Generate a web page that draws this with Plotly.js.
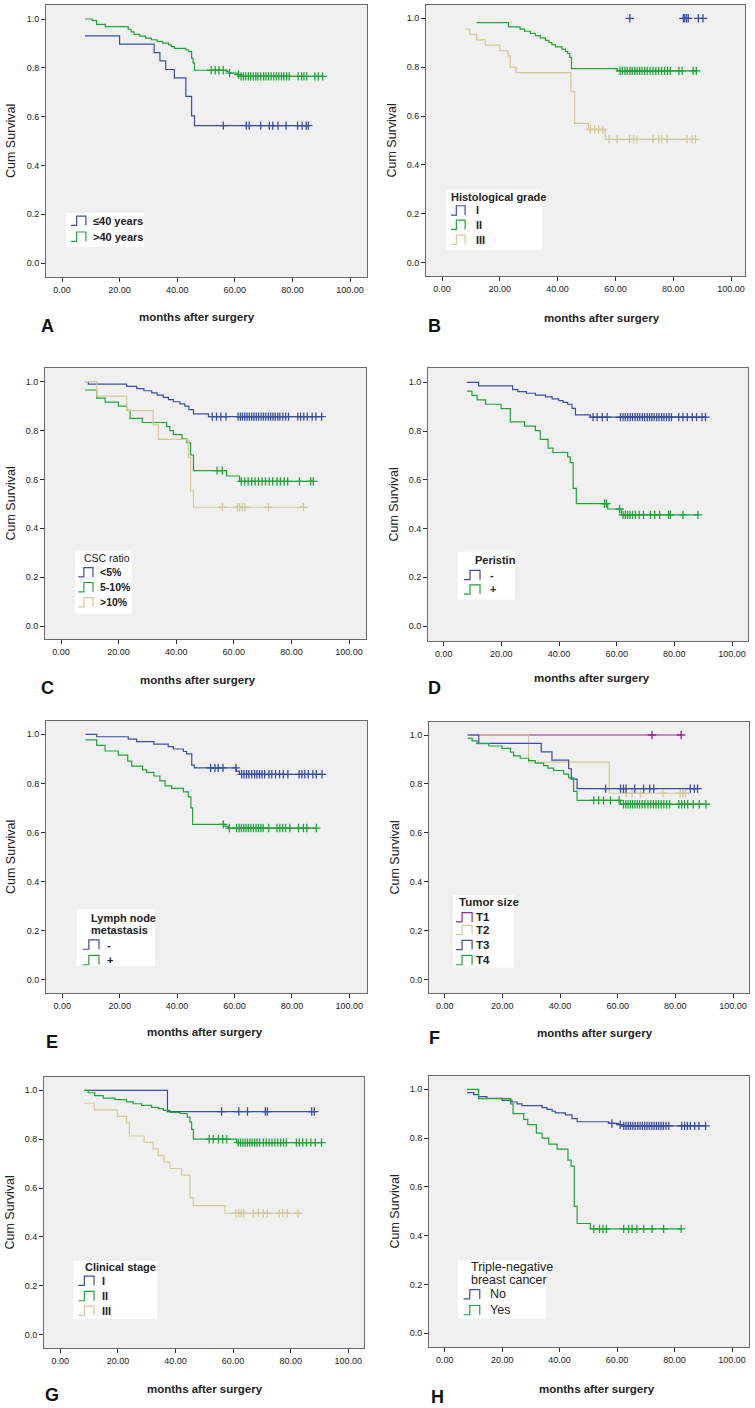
<!DOCTYPE html>
<html>
<head>
<meta charset="utf-8">
<script src="https://cdn.plot.ly/plotly-3.0.1.min.js"></script>
<style>
html,body{margin:0;padding:0;background:#fff;}
#chart{width:755px;height:1408px;}
</style>
</head>
<body>
<div id="chart"></div>
<script>
// ---------------- DATA ----------------
// Panel A: Age
const A_le40_start = [8, 0.931];
const A_le40_t = [20, 32, 34, 36, 39, 43, 45, 46];
const A_le40_s = [0.897, 0.862, 0.828, 0.793, 0.759, 0.683, 0.603, 0.563];
const A_le40_c = [56, 64, 65, 69, 72, 73.2, 75, 77.8, 81.8, 83.4, 84.8, 85.5];
const A_gt40_start = [8, 1.0];
const A_gt40_t = [10.5, 12, 15, 23, 24, 25, 27, 29, 31, 33, 35, 37, 38, 39, 43, 44, 45, 45.5, 46, 57, 58, 61, 62];
const A_gt40_s = [0.993, 0.978, 0.969, 0.958, 0.947, 0.937, 0.93, 0.922, 0.915, 0.908, 0.901, 0.894, 0.887, 0.88, 0.873, 0.866, 0.84, 0.82, 0.79, 0.785, 0.778, 0.772, 0.765];
const A_gt40_c = [51.8, 53.2, 54.5, 56, 58.2, 61.3, 62.2, 63, 63.8, 64.7, 65.5, 66.4, 67.3, 68, 69, 70, 70.8, 71.7, 72.6, 73.5, 74.4, 75.3, 76.2, 77, 78, 78.9, 82, 83.2, 84, 85, 87.8, 89, 90.5];

// Panel B: Histological grade
const B_I_start = [65, 1.0];
const B_I_t = [];
const B_I_s = [];
const B_I_c = [65, 83.5, 84, 84.6, 85.2, 88.7, 90.3];
const B_II_start = [12, 0.982];
const B_II_t = [23, 27, 28.6, 30.6, 32.3, 34, 35.8, 37, 38, 39.2, 41.5, 42.7, 43.5, 44.2, 44.8, 60.6];
const B_II_s = [0.965, 0.956, 0.947, 0.938, 0.929, 0.92, 0.91, 0.901, 0.892, 0.883, 0.874, 0.865, 0.856, 0.84, 0.794, 0.785];
const B_II_c = [61.6, 62.4, 63.3, 64.1, 65, 65.8, 66.7, 67.5, 68.4, 69.2, 70.1, 71, 72, 73, 74, 75, 76, 77, 78, 79, 82, 83.1, 86.9, 88];
const B_III_start = [8.1, 0.956];
const B_III_t = [9.6, 12, 15, 20, 22.8, 23.6, 25.6, 44.6, 45.9, 50.7, 56.5];
const B_III_s = [0.934, 0.912, 0.89, 0.868, 0.846, 0.8, 0.778, 0.7, 0.57, 0.545, 0.505];
const B_III_c = [51.3, 52.8, 54.2, 55.7, 57.8, 60.6, 64.9, 66.3, 67.5, 73, 75, 76.1, 77.9, 84.8, 86.5, 87.7];

// Panel C: CSC ratio
const C_lt5_start = [8.3, 1.0];
const C_lt5_t = [9.5, 22.8, 26.3, 28.8, 31.5, 33.4, 35.5, 37.3, 39, 41.3, 43, 44.4, 46, 51.2];
const C_lt5_s = [0.99, 0.981, 0.972, 0.963, 0.954, 0.945, 0.936, 0.927, 0.918, 0.909, 0.9, 0.886, 0.868, 0.857];
const C_lt5_c = [52.5, 54, 55.5, 57.3, 61.5, 62.3, 63, 63.8, 64.6, 65.4, 66.2, 67, 67.8, 68.6, 69.5, 70.3, 71.1, 72, 72.8, 73.6, 74.4, 75.3, 76, 77, 78, 79, 82.2, 83.2, 84.3, 85.5, 87.2, 88.5, 90.5];
const C_5to10_start = [8.3, 0.966];
const C_5to10_t = [12.4, 15.3, 19.9, 22.8, 24, 28.2, 36.7, 37.8, 39, 42, 43.7, 45, 46, 57.5, 62];
const C_5to10_s = [0.933, 0.916, 0.9, 0.883, 0.85, 0.833, 0.816, 0.8, 0.783, 0.766, 0.75, 0.7, 0.636, 0.614, 0.592];
const C_5to10_c = [54.2, 56, 62.6, 63.8, 65, 66.2, 67.4, 68.6, 69.8, 71, 72.3, 73.5, 75, 76.2, 77.5, 78.7, 82.8, 86.7, 87.6];
const C_gt10_start = [8.3, 1.0];
const C_gt10_t = [12.4, 22.8, 32, 33.8, 44.2, 45, 46];
const C_gt10_s = [0.941, 0.882, 0.823, 0.764, 0.69, 0.553, 0.486];
const C_gt10_c = [56, 61.2, 62, 63, 63.9, 72, 84.2];

// Panel D: Periostin
const D_neg_start = [8.1, 1.0];
const D_neg_t = [12.1, 23.9, 25.7, 28.7, 31.8, 35.3, 37.6, 39.9, 41.4, 43, 44.5, 45.7, 50.9];
const D_neg_s = [0.985, 0.97, 0.962, 0.955, 0.947, 0.94, 0.932, 0.925, 0.918, 0.91, 0.893, 0.866, 0.857];
const D_neg_c = [51.8, 53.2, 55, 56.7, 61.3, 62.2, 63, 63.8, 64.7, 65.5, 66.4, 67.2, 68, 68.9, 69.7, 70.6, 71.4, 72.2, 73, 73.9, 74.7, 75.6, 76.4, 77.3, 78.2, 79, 81.5, 83, 84.5, 86.2, 87.7, 89.6, 90.8];
const D_pos_start = [8.1, 0.964];
const D_pos_t = [9.8, 11.6, 14.5, 19.9, 23.1, 28, 31.8, 33.5, 36.2, 37.9, 43, 43.9, 44.9, 46, 56.9, 61.6];
const D_pos_s = [0.946, 0.928, 0.91, 0.892, 0.838, 0.82, 0.802, 0.766, 0.73, 0.712, 0.694, 0.67, 0.565, 0.502, 0.48, 0.456];
const D_pos_c = [55.8, 56.4, 61, 62.2, 63, 63.8, 64.6, 65.5, 66.5, 67.8, 69.3, 71.7, 73.2, 74.9, 78, 78.6, 83, 88.2];

// Panel E: Lymph node metastasis
const E_neg_start = [8.1, 1.0];
const E_neg_t = [12, 23, 25.9, 31.9, 36.9, 38.7, 42.2, 43.3, 45.1, 46, 60.7, 61.7];
const E_neg_s = [0.99, 0.98, 0.97, 0.96, 0.95, 0.94, 0.93, 0.92, 0.874, 0.863, 0.85, 0.837];
const E_neg_c = [51.7, 53.2, 54.3, 56, 60.5, 62.5, 63.3, 64.2, 65, 66, 67, 67.8, 68.7, 69.6, 70.5, 72, 73, 74.3, 75.7, 77, 78.6, 82.5, 83.5, 84.5, 85.7, 87.3, 88.5, 90.5];
const E_pos_start = [8.1, 0.977];
const E_pos_t = [12, 14.9, 19.5, 22.8, 24.2, 28, 29.4, 31.9, 34, 35.8, 38.1, 42.2, 43.9, 44.8, 45.4, 56.7, 57.8];
const E_pos_s = [0.955, 0.932, 0.915, 0.891, 0.87, 0.855, 0.845, 0.83, 0.81, 0.79, 0.78, 0.765, 0.745, 0.7, 0.633, 0.625, 0.618];
const E_pos_c = [56.1, 58.2, 60.7, 61.6, 62.4, 63.2, 64, 64.8, 65.7, 66.6, 67.5, 68.3, 69.2, 70, 71.9, 74.8, 75.8, 76.8, 77.8, 79.3, 82.3, 84, 85.2, 88.5];

// Panel F: Tumor size
const F_T1_start = [8, 1.0];
const F_T1_t = [];
const F_T1_s = [];
const F_T1_c = [71.9, 82];
const F_T2_start = [8, 1.0];
const F_T2_t = [29.1, 57.1];
const F_T2_s = [0.889, 0.762];
const F_T2_c = [63, 65, 67.9, 75.7, 81.7, 82.7, 83.5];
const F_T3_start = [8, 1.0];
const F_T3_t = [11.8, 33.5, 37.2, 43, 43.9, 45.9];
const F_T3_s = [0.966, 0.931, 0.897, 0.862, 0.82, 0.781];
const F_T3_c = [55.8, 61, 62, 62.9, 65.9, 69, 71.1, 72.5, 85.2, 86.6, 87.7];
const F_T4_start = [8, 0.987];
const F_T4_t = [9.5, 11.2, 15.3, 19.9, 22.8, 23.9, 26.2, 29.1, 31.4, 34.3, 35.8, 37.8, 41.3, 43, 44.7, 45.9, 61];
const F_T4_s = [0.976, 0.965, 0.955, 0.945, 0.93, 0.915, 0.905, 0.895, 0.885, 0.875, 0.865, 0.855, 0.84, 0.825, 0.77, 0.733, 0.717];
const F_T4_c = [51.7, 53.4, 55.1, 57.5, 60.5, 62, 62.8, 63.6, 64.4, 65.2, 66, 66.8, 67.6, 68.5, 69.4, 70.5, 71.5, 72.4, 73.3, 74.2, 75.1, 76, 77, 78, 81.2, 82.2, 83.2, 84.3, 86.2, 88.3, 90.6];

// Panel G: Clinical stage
const G_I_start = [8.3, 1.0];
const G_I_t = [37.2];
const G_I_s = [0.913];
const G_I_c = [56, 62, 65, 71.2, 71.9, 87.3, 88.2];
const G_II_start = [8.3, 1.0];
const G_II_t = [9.7, 12, 14.9, 19, 23, 25.3, 28.2, 31.7, 34, 35.8, 38.1, 41.6, 44.1, 45, 45.6, 46.2, 61.2];
const G_II_s = [0.99, 0.978, 0.968, 0.962, 0.953, 0.945, 0.938, 0.93, 0.925, 0.918, 0.91, 0.905, 0.89, 0.87, 0.84, 0.8, 0.786];
const G_II_c = [51.7, 53.1, 54.9, 56.4, 57.8, 61.8, 62.6, 63.4, 64.2, 65, 65.8, 66.6, 67.5, 68.3, 69.2, 70.5, 71.5, 72.5, 73.5, 74.5, 75.5, 76.5, 77.5, 78.5, 82, 83, 84.2, 85.5, 87, 88.5, 90.7];
const G_III_start = [8.3, 0.947];
const G_III_t = [11.8, 19.8, 23, 24, 29.1, 32.3, 34, 36, 38.1, 42.1, 45, 46.2, 57.2];
const G_III_s = [0.92, 0.893, 0.867, 0.813, 0.787, 0.76, 0.733, 0.706, 0.68, 0.653, 0.56, 0.528, 0.497];
const G_III_c = [61, 62, 62.8, 63.7, 67, 68.8, 70.5, 71.9, 76, 77.2, 78.8, 82.6];

// Panel H: Triple-negative breast cancer
const H_no_start = [7.8, 0.986];
const H_no_t = [10.1, 11.8, 14.7, 20, 23.4, 25.2, 26.9, 33.9, 35.6, 37.4, 38.5, 42, 44.3, 46.1, 57.1, 60.6, 61.7];
const H_no_s = [0.978, 0.97, 0.963, 0.955, 0.948, 0.94, 0.933, 0.925, 0.918, 0.91, 0.903, 0.895, 0.88, 0.867, 0.86, 0.855, 0.85];
const H_no_c = [58.2, 61.1, 62.3, 63.1, 63.9, 64.7, 65.5, 66.3, 67.2, 68, 68.8, 69.6, 70.4, 71.2, 72.1, 72.9, 73.7, 74.5, 75.3, 76.1, 77, 78, 82.5, 83.5, 84.5, 85.5, 87, 88.5, 90.8];
const H_yes_start = [7.8, 1.0];
const H_yes_t = [11.8, 22.9, 23.8, 27.5, 28.9, 31.9, 33.9, 36.2, 39.1, 42.9, 44, 45.1, 46.1, 50.7];
const H_yes_s = [0.962, 0.94, 0.9, 0.877, 0.855, 0.82, 0.8, 0.775, 0.755, 0.71, 0.685, 0.52, 0.45, 0.428];
const H_yes_c = [51.9, 53.9, 55.1, 56.3, 62.3, 64, 65.2, 66.9, 69.3, 72.2, 76.2, 82.3];

// Axis ticks
const xTicks = [0, 20, 40, 60, 80, 100];
const yTicks = [0, 0.2, 0.4, 0.6, 0.8, 1.0];

// ---------------- STYLE ----------------
const BLUE = '#3b4ea3', GREEN = '#20a33b', TAN = '#d4c99c', PURPLE = '#8e2c86';
const FONT = 'Liberation Sans, Arial, sans-serif';
const W = 755, H = 1408;

const S = (start, t, s, c, color, name, line) => ({start, t, s, c, color, name, line: line !== false});

const panels = [
  {letter:'A', box:[46,367,5,277], px0:62, px100:350, py1:19, py0:263, letterPos:[47,326], xt:[197,317],
   series:[S(A_le40_start,A_le40_t,A_le40_s,A_le40_c,BLUE,'≤40 years'), S(A_gt40_start,A_gt40_t,A_gt40_s,A_gt40_c,GREEN,'>40 years')],
   legend:{box:[1.4,28.5,0.066,0.205], title:[], items:[0.173,0.108], icon:[3.1,8.3], lx:10, size:11, bold:true}},
  {letter:'B', box:[426,745,5,276], px0:442, px100:731, py1:18.3, py0:262.7, letterPos:[435,326], xt:[602,318],
   series:[S(B_I_start,B_I_t,B_I_s,B_I_c,BLUE,'I',false), S(B_II_start,B_II_t,B_II_s,B_II_c,GREEN,'II'), S(B_III_start,B_III_t,B_III_s,B_III_c,TAN,'III')],
   legend:{box:[1.4,34.6,0.053,0.298], title:[['Histological grade',0.27]], tx:2.3, items:[0.214,0.155,0.094], icon:[3.1,8], lx:11, size:11, bold:true}},
  {letter:'C', box:[45,366,368,639], px0:61, px100:349, py1:381.7, py0:626, letterPos:[47,688], xt:[198,680],
   series:[S(C_lt5_start,C_lt5_t,C_lt5_s,C_lt5_c,BLUE,'<5%'), S(C_5to10_start,C_5to10_t,C_5to10_s,C_5to10_c,GREEN,'5-10%'), S(C_gt10_start,C_gt10_t,C_gt10_s,C_gt10_c,TAN,'>10%')],
   legend:{box:[4.9,24.5,0.05,0.305], title:[['CSC ratio',0.277]], tx:7.2, titleBold:false, items:[0.22,0.159,0.097], icon:[6,11.1], lx:12.7, size:10.5, bold:true}},
  {letter:'D', box:[428,748,368,641], px0:443.7, px100:732, py1:382.3, py0:626, letterPos:[435,688], xt:[592,678],
   series:[S(D_neg_start,D_neg_t,D_neg_s,D_neg_c,BLUE,'-'), S(D_pos_start,D_pos_t,D_pos_s,D_pos_c,GREEN,'+')],
   legend:{box:[4.9,24.7,0.109,0.305], title:[['Peristin',0.27]], tx:10.3, items:[0.209,0.15], icon:[7,12.6], lx:15.5, size:11, bold:true}},
  {letter:'E', box:[46,367,721,993], px0:62.3, px100:349.3, py1:734.3, py0:979.7, letterPos:[52,1042], xt:[205,1032],
   series:[S(E_neg_start,E_neg_t,E_neg_s,E_neg_c,BLUE,'-'), S(E_pos_start,E_pos_t,E_pos_s,E_pos_c,GREEN,'+')],
   legend:{box:[5,32.3,0.056,0.287], title:[['Lymph node',0.252],['metastasis',0.202]], tx:9.4, items:[0.143,0.08], icon:[7.1,12.8], lx:14.9, size:11, bold:true}},
  {letter:'F', box:[429,749,722,993], px0:444.7, px100:733, py1:735, py0:979.7, letterPos:[434,1038], xt:[595,1033],
   series:[S(F_T1_start,F_T1_t,F_T1_s,F_T1_c,PURPLE,'T1'), S(F_T2_start,F_T2_t,F_T2_s,F_T2_c,TAN,'T2'), S(F_T3_start,F_T3_t,F_T3_s,F_T3_c,BLUE,'T3'), S(F_T4_start,F_T4_t,F_T4_s,F_T4_c,GREEN,'T4')],
   legend:{box:[2.9,23.9,0.05,0.346], title:[['Tumor size',0.316]], tx:4.3, items:[0.255,0.203,0.142,0.08], icon:[3.9,9.5], lx:10, size:11.5, bold:true}},
  {letter:'G', box:[44,364,1077,1348], px0:60.3, px100:348.3, py1:1090.3, py0:1334.7, letterPos:[52,1395], xt:[205,1389],
   series:[S(G_I_start,G_I_t,G_I_s,G_I_c,BLUE,'I'), S(G_II_start,G_II_t,G_II_s,G_II_c,GREEN,'II'), S(G_III_start,G_III_t,G_III_s,G_III_c,TAN,'III')],
   legend:{box:[4.5,33.7,0.064,0.302], title:[['Clinical stage',0.276]], tx:8, items:[0.221,0.158,0.098], icon:[6.3,11.7], lx:13.8, size:11, bold:true}},
  {letter:'H', box:[429,749,1076,1347], px0:444.7, px100:732, py1:1089.3, py0:1333.3, letterPos:[437,1397], xt:[597,1389],
   series:[S(H_no_start,H_no_t,H_no_s,H_no_c,BLUE,'No'), S(H_yes_start,H_yes_t,H_yes_s,H_yes_c,GREEN,'Yes')],
   legend:{box:[4.6,35.3,0.06,0.299], title:[['Triple-negative',0.27],['breast cancer',0.218]], tx:8.4, items:[0.16,0.095], icon:[6.6,12.2], lx:15, size:12.5, bold:false}}
];

// step-function value at time x
function survAt(ser, x) {
  let v = ser.start[1];
  for (let i = 0; i < ser.t.length; i++) { if (ser.t[i] <= x) v = ser.s[i]; }
  return v;
}

const data = [];
const layout = {
  width: W, height: H, margin: {l:0, r:0, t:0, b:0},
  paper_bgcolor: '#ffffff', showlegend: false,
  font: {family: FONT, color: '#222'},
  shapes: [], annotations: []
};

const px2x = p => p / W;
const px2y = p => 1 - p / H;

panels.forEach((P, i) => {
  const k = i + 1;
  const xa = 'xaxis' + (k === 1 ? '' : k), ya = 'yaxis' + (k === 1 ? '' : k);
  const xr = 'x' + (k === 1 ? '' : k), yr = 'y' + (k === 1 ? '' : k);
  const [L, R, T, B] = P.box;
  const sx = (P.px100 - P.px0) / 100, sy = (P.py0 - P.py1);
  const axCommon = {
    showgrid: false, zeroline: false, showline: true, mirror: true,
    linecolor: '#6a6a6a', linewidth: 1, ticks: 'outside', ticklen: 4, tickcolor: '#333', tickwidth: 1,
    tickfont: {size: 9, color: '#222', family: FONT}, fixedrange: true
  };
  layout[xa] = Object.assign({}, axCommon, {
    domain: [px2x(L), px2x(R)], anchor: yr,
    range: [(L - P.px0) / sx, (R - P.px0) / sx],
    tickmode: 'array', tickvals: xTicks, ticktext: xTicks.map(v => v.toFixed(2))
  });
  layout[ya] = Object.assign({}, axCommon, {
    domain: [px2y(B), px2y(T)], anchor: xr,
    range: [-(B - P.py0) / sy, 1 + (P.py1 - T) / sy],
    tickmode: 'array', tickvals: yTicks, ticktext: yTicks.map(v => v.toFixed(1))
  });
  // plot background
  layout.shapes.push({type:'rect', xref: xr + ' domain', yref: yr + ' domain', x0:0, x1:1, y0:0, y1:1,
    fillcolor:'#f0f0f0', line:{width:0}, layer:'below'});

  P.series.forEach(ser => {
    const end = ser.c.length ? Math.max(...ser.c) : (ser.t.length ? ser.t[ser.t.length-1] : ser.start[0]);
    if (ser.line) {
      const xs = [ser.start[0], ...ser.t, end];
      const ys = [ser.start[1], ...ser.s, ser.s.length ? ser.s[ser.s.length-1] : ser.start[1]];
      data.push({type:'scatter', mode:'lines', x: xs, y: ys, xaxis: xr, yaxis: yr,
        line:{shape:'hv', color: ser.color, width: 1.2}, hoverinfo:'skip', name: ser.name});
    }
    data.push({type:'scatter', mode:'markers', x: ser.c, y: ser.c.map(c => survAt(ser, c)), xaxis: xr, yaxis: yr,
      marker:{symbol:'cross-thin', size:6, color: ser.color, line:{width:1.3, color: ser.color}}, hoverinfo:'skip', name: ser.name + ' censored'});
  });

  // legend box
  const lg = P.legend;
  layout.shapes.push({type:'rect', xref: xr, yref: yr, x0: lg.box[0], x1: lg.box[1], y0: lg.box[2], y1: lg.box[3],
    fillcolor:'#ffffff', line:{width:0}, layer:'above'});
  (lg.title || []).forEach(([txt, y]) => {
    layout.annotations.push({xref: xr, yref: yr, x: lg.tx, y: y, xanchor:'left', yanchor:'middle', showarrow:false,
      text: (lg.titleBold === false || !lg.bold) ? txt : '<b>' + txt + '</b>', font:{size: lg.size, color:'#222', family: FONT}});
  });
  P.series.forEach((ser, j) => {
    const y = lg.items[j];
    const [a, b] = lg.icon; const m = a + 0.38 * (b - a);
    const yb = y - 0.019, yt = y + 0.019;
    layout.shapes.push({type:'path', xref: xr, yref: yr, layer:'above',
      path: `M ${a},${yb} L ${m},${yb} L ${m},${yt} L ${b},${yt} L ${b},${yb}`,
      line:{color: ser.color, width: 1.2}});
    layout.annotations.push({xref: xr, yref: yr, x: lg.lx, y: y, xanchor:'left', yanchor:'middle', showarrow:false,
      text: lg.bold ? '<b>' + ser.name + '</b>' : ser.name, font:{size: lg.size, color:'#222', family: FONT}});
  });

  // axis titles and panel letter (as paper annotations)
  layout.annotations.push({xref:'paper', yref:'paper', x: px2x(P.xt[0]), y: px2y(P.xt[1]), xanchor:'center', yanchor:'middle',
    showarrow:false, text:'<b>months after surgery</b>', font:{size:11.5, color:'#222', family: FONT}});
  layout.annotations.push({xref:'paper', yref:'paper', x: px2x(L - 35), y: px2y((T + B) / 2), xanchor:'center', yanchor:'middle',
    textangle:-90, showarrow:false, text:'Cum Survival', font:{size:12.5, color:'#222', family: FONT}});
  layout.annotations.push({xref:'paper', yref:'paper', x: px2x(P.letterPos[0]), y: px2y(P.letterPos[1]), xanchor:'center', yanchor:'middle',
    showarrow:false, text:'<b>' + P.letter + '</b>', font:{size:18, color:'#111', family: FONT}});
});

layout.plot_bgcolor = 'rgba(0,0,0,0)';
Plotly.newPlot('chart', data, layout, {staticPlot: true, displayModeBar: false});
</script>
</body>
</html>
